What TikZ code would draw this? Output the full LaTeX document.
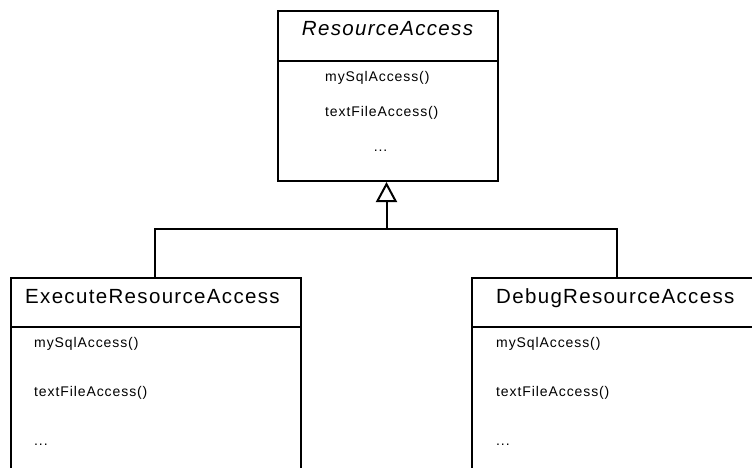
\documentclass[tikz,border=0pt]{standalone}
\usepackage{fontspec}
\setmainfont{Liberation Sans}[LetterSpace=6.5]
\usetikzlibrary{arrows.meta}
\begin{document}
\begin{tikzpicture}[x=1pt,y=-1pt,
  box/.style={draw,line width=2pt,inner sep=0pt,anchor=north west},
  conn/.style={draw,line width=2pt,line join=miter},
  hdr/.style={font=\fontsize{20.5}{24}\selectfont,anchor=base,inner sep=0pt},
  meth/.style={font=\fontsize{14}{17}\selectfont,anchor=base west,inner sep=0pt},
  dots/.style={font=\fontsize{14}{17}\selectfont,anchor=base,inner sep=0pt}]
\useasboundingbox (0,0) rectangle (752,468);
\clip (0,0) rectangle (752,468);

% abstract parent class
\node[box,minimum width=220pt,minimum height=50pt] (rahead) at (277,10) {};
\node[box,minimum width=220pt,minimum height=120pt] (rabody) at (277,60) {};
\node[hdr,font=\fontsize{20.5}{24}\selectfont\itshape] (ratitle) at (387.5,35.5) {ResourceAccess};
\node[meth] (ram1) at (325,81.5) {mySqlAccess()};
\node[meth] (ram2) at (325,117) {textFileAccess()};
\node[dots] (ram3) at (380.5,152) {...};

% left subclass
\node[box,minimum width=290.5pt,minimum height=49pt] (exhead) at (9.5,277) {};
\node[box,minimum width=290.5pt,minimum height=160pt] (exbody) at (9.5,326) {};
\node[hdr,anchor=base west] (extitle) at (25,303) {ExecuteResourceAccess};
\node[meth] (exm1) at (34,347.5) {mySqlAccess()};
\node[meth] (exm2) at (34,396.5) {textFileAccess()};
\node[meth] (exm3) at (34,445) {...};

% right subclass
\node[box,minimum width=300pt,minimum height=49pt] (dbhead) at (471,277) {};
\node[box,minimum width=300pt,minimum height=160pt] (dbbody) at (471,326) {};
\node[hdr,anchor=base west] (dbtitle) at (496,303) {DebugResourceAccess};
\node[meth] (dbm1) at (496,347.5) {mySqlAccess()};
\node[meth] (dbm2) at (496,396.5) {textFileAccess()};
\node[meth] (dbm3) at (496,445) {...};

% generalization connector
\coordinate (join) at (386.5,229);
\coordinate (exjoin) at (155,277);
\coordinate (dbjoin) at (616.5,277);
\draw[conn] (exjoin) |- (join) -| (dbjoin);
\draw[conn,-{Triangle[open,length=20pt,width=21pt,line width=2pt]}] (join) -- (386.5,182);
\end{tikzpicture}
\end{document}
